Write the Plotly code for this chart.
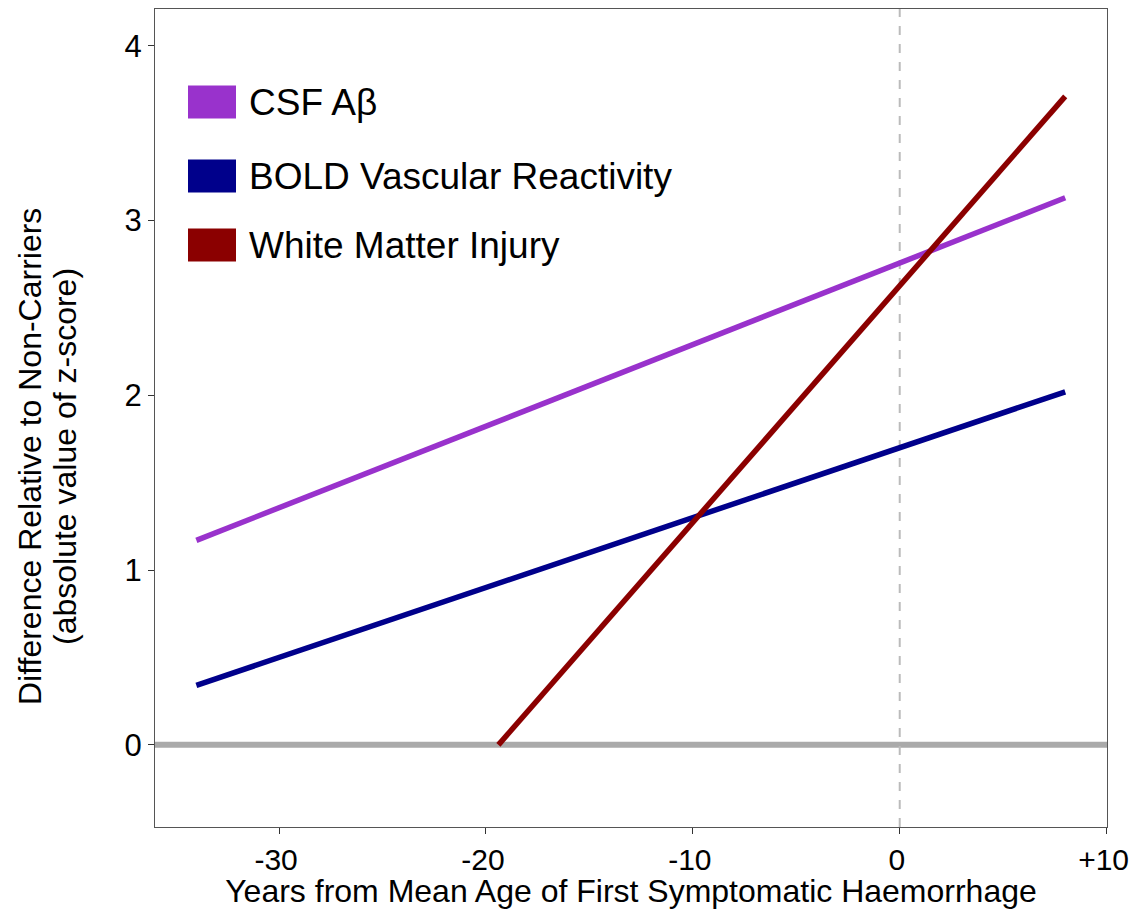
import plotly.graph_objects as go

# ---- data ----
series_names = ["CSF Aβ", "BOLD Vascular Reactivity", "White Matter Injury"]
series_colors = ["#9932CC", "#00008B", "#8B0000"]
csf_x = [-34, 8]
csf_y = [1.17, 3.13]
bold_x = [-34, 8]
bold_y = [0.34, 2.02]
wmi_x = [-19.4, 8]
wmi_y = [0.0, 3.71]
x_tick_vals = [-30, -20, -10, 0, 10]
x_tick_text = ["-30", "-20", "-10", "0", "+10"]
y_tick_vals = [0, 1, 2, 3, 4]
y_title_lines = ["Difference Relative to Non-Carriers", "(absolute value of z-score)"]

W, H = 1131, 909
L, R, T, B = 155, 24, 9, 82
PW, PH = W - L - R, H - T - B

def px_x(p):
    return (p - L) / PW

def px_y(p):
    return 1 - (p - T) / PH

fig = go.Figure()
xs = [csf_x, bold_x, wmi_x]
ys = [csf_y, bold_y, wmi_y]

# zero line and vertical dashed reference
fig.add_hline(y=0, line=dict(color="#AAAAAA", width=6), layer="below")
fig.add_vline(x=0, line=dict(color="#BBBBBB", width=2, dash="dash"), layer="below")

for name, c, x, y in zip(series_names, series_colors, xs, ys):
    fig.add_trace(go.Scatter(x=x, y=y, mode="lines", name=name,
                             line=dict(color=c, width=5.5), showlegend=False))

# custom legend
leg_rows = [102, 176, 245]
for name, c, cy in zip(series_names, series_colors, leg_rows):
    fig.add_shape(type="rect", xref="paper", yref="paper",
                  x0=px_x(188), x1=px_x(236), y0=px_y(cy - 16.5), y1=px_y(cy + 16.5),
                  fillcolor=c, line=dict(width=0))
    fig.add_annotation(xref="paper", yref="paper", x=px_x(247), y=px_y(cy),
                       text=name, showarrow=False, xanchor="left", yanchor="middle",
                       font=dict(size=37, color="black", family="Liberation Sans, Arial"))

# y-axis title (two rotated lines)
for line_text, cx in zip(y_title_lines, [30, 65]):
    fig.add_annotation(xref="paper", yref="paper", x=px_x(cx), y=px_y(457),
                       text=line_text, showarrow=False, textangle=-90,
                       xanchor="center", yanchor="middle",
                       font=dict(size=32, color="black", family="Liberation Sans, Arial"))

axis_common = dict(showgrid=False, zeroline=False, showline=True, mirror=True,
                   linecolor="#555555", linewidth=1.2, ticks="outside", ticklen=6,
                   tickcolor="#333333", tickfont=dict(size=31, color="black"),
                   ticklabeloverflow="allow", automargin=False)

fig.update_xaxes(range=[-36, 10.02], tickvals=x_tick_vals, ticktext=x_tick_text,
                 ticklabelshift=-3,
                 **axis_common)
fig.update_xaxes(tickfont=dict(size=30, color="black"),
                 title=dict(text="Years from Mean Age of First Symptomatic Haemorrhage",
                            font=dict(size=32, color="black"), standoff=6))
fig.update_yaxes(range=[-0.47, 4.21], tickvals=y_tick_vals, **axis_common)

fig.update_layout(width=W, height=H, margin=dict(l=L, r=R, t=T, b=B, autoexpand=False),
                  plot_bgcolor="white", paper_bgcolor="white",
                  font=dict(family="Liberation Sans, Arial", color="black"))

fig.write_html("out.html", config={"displayModeBar": False},
               post_script="document.body.style.margin='0px';")
